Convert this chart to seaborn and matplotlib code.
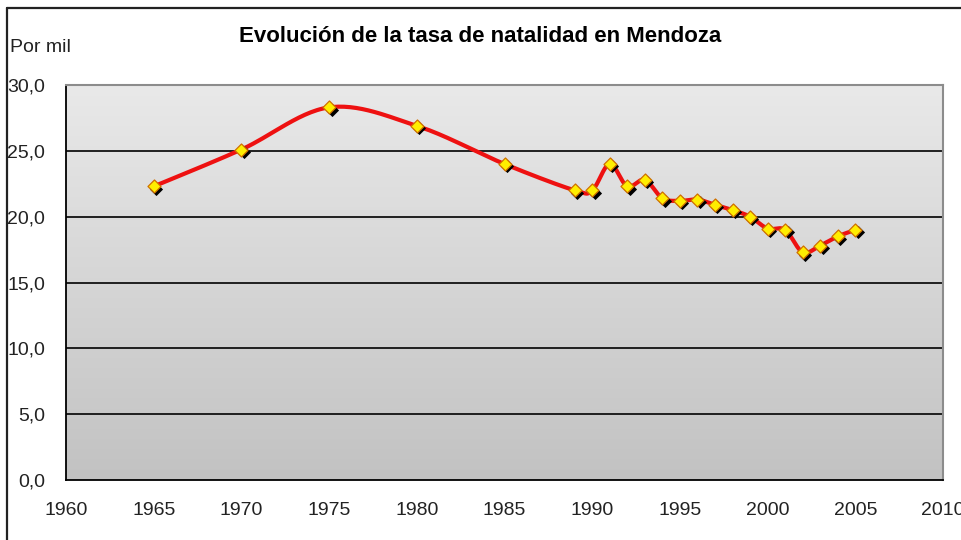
import numpy as np
import pandas as pd
import matplotlib
matplotlib.use("Agg")
import matplotlib.pyplot as plt
import matplotlib.transforms as mtransforms
from matplotlib.lines import Line2D
from matplotlib.colors import LinearSegmentedColormap
from matplotlib.ticker import FuncFormatter
import seaborn as sns

# ---- data ----
years = [1965, 1970, 1975, 1980, 1985, 1989, 1990, 1991, 1992, 1993, 1994,
         1995, 1996, 1997, 1998, 1999, 2000, 2001, 2002, 2003, 2004, 2005]
rate = [22.3, 25.1, 28.3, 26.9, 24.0, 22.0, 22.0, 24.0, 22.3, 22.8, 21.4,
        21.2, 21.3, 20.9, 20.5, 20.0, 19.1, 19.0, 17.3, 17.8, 18.5, 19.0]
x_ticks = [1960, 1965, 1970, 1975, 1980, 1985, 1990, 1995, 2000, 2005, 2010]
y_ticks = [0, 5, 10, 15, 20, 25, 30]
title = "Evolución de la tasa de natalidad en Mendoza"
ylabel = "Por mil"

df = pd.DataFrame({"year": years, "rate": rate})

sns.set_theme(style="white")
plt.rcParams["font.family"] = ["Liberation Sans", "DejaVu Sans"]

W, H = 962, 540
fig = plt.figure(figsize=(W / 100, H / 100), dpi=100)
fig.patch.set_facecolor("white")
L, R, T, B = 66, 943, 85, 480
ax = fig.add_axes([L / W, 1 - B / H, (R - L) / W, (B - T) / H])

# smoothed curve (Excel-like Catmull-Rom / Bezier) computed from the data
def smooth(xs, ys, n=30):
    P = np.column_stack([xs, ys]).astype(float)
    out = []
    for i in range(len(P) - 1):
        p0 = P[i - 1] if i > 0 else P[i]
        p1, p2 = P[i], P[i + 1]
        p3 = P[i + 2] if i + 2 < len(P) else P[i + 1]
        c1 = p1 + (p2 - p0) / 6.0
        c2 = p2 - (p3 - p1) / 6.0
        t = np.linspace(0, 1, n)[:, None]
        seg = ((1 - t) ** 3) * p1 + 3 * ((1 - t) ** 2) * t * c1 + 3 * (1 - t) * t ** 2 * c2 + t ** 3 * p2
        out.append(seg if i == 0 else seg[1:])
    s = np.vstack(out)
    return s[:, 0], s[:, 1]

sx, sy = smooth(df["year"].values, df["rate"].values)
curve = pd.DataFrame({"x": sx, "y": sy})

ax.set_xlim(1960, 2010)
ax.set_ylim(0, 30)

# gradient background
cmap = LinearSegmentedColormap.from_list("bg", ["#c2c2c2", "#e9e9e9"])
grad = np.linspace(0, 1, 256)[:, None]
ax.imshow(grad, cmap=cmap, origin="lower", extent=[1960, 2010, 0, 30],
          aspect="auto", zorder=0)

# grid lines
for yv in y_ticks[1:-1]:
    ax.axhline(yv, color="#111111", lw=1.3, zorder=1)

sns.lineplot(data=curve, x="x", y="y", ax=ax, color="#ee1111", lw=3.0,
             sort=False, estimator=None, zorder=3)
shadow_tr = mtransforms.offset_copy(ax.transData, fig=fig, x=2.4, y=-2.4, units="dots")
ax.plot(df["year"], df["rate"], ls="none", marker="D", ms=6.6, mfc="#000000",
        mec="#000000", mew=0.6, transform=shadow_tr, zorder=4)
sns.scatterplot(data=df, x="year", y="rate", ax=ax, marker="D", s=44,
                color="#ffee00", edgecolor="#d07000", linewidth=0.9, zorder=5)

ax.set_xticks(x_ticks)
ax.set_yticks(y_ticks)
ax.yaxis.set_major_formatter(FuncFormatter(lambda v, p: f"{v:.1f}".replace(".", ",")))
ax.tick_params(axis="both", direction="out", length=7, width=1.2, color="#000000",
               labelsize=14, labelcolor="#222222")
ax.tick_params(axis="y", pad=8)
ax.tick_params(axis="x", pad=9)
ax.set_xlabel("")
ax.set_ylabel("")

for side in ["left", "bottom"]:
    ax.spines[side].set_color("#000000")
    ax.spines[side].set_linewidth(1.3)
for side in ["top", "right"]:
    ax.spines[side].set_color("#8c8c8c")
    ax.spines[side].set_linewidth(1.5)
for s in ax.spines.values():
    s.set_zorder(6)

fig.text(480 / W, 1 - 36 / H, title, ha="center", va="center",
         fontsize=16, fontweight="bold", color="#000000")
fig.text(10 / W, 1 - 48 / H, ylabel, ha="left", va="center",
         fontsize=14, color="#222222")

# outer chart frame (cropped: only left and top edges visible)
fig.add_artist(Line2D([7.5 / W, 7.5 / W], [0, 1 - 7.5 / H], transform=fig.transFigure,
                      color="#222222", lw=1.6))
fig.add_artist(Line2D([7.5 / W, 1], [1 - 7.5 / H, 1 - 7.5 / H], transform=fig.transFigure,
                      color="#222222", lw=1.6))

fig.savefig("out.png", dpi=100)
